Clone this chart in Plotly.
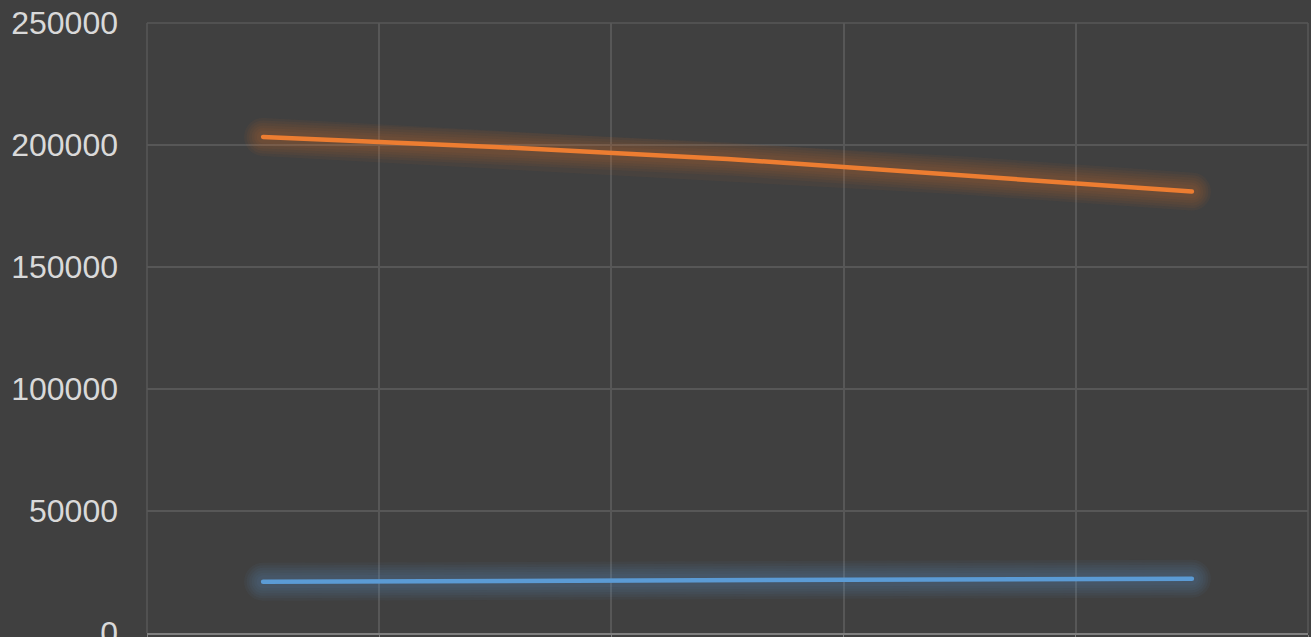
import plotly.graph_objects as go

# Five periods, two series
periods = [0, 1, 2, 3, 4]
series_a = [21000, 21300, 21550, 21900, 22250]        # blue
series_b = [203300, 199200, 194300, 187600, 180900]   # orange

y_ticks = [0, 50000, 100000, 150000, 200000, 250000]
x_bounds = [-0.5, 0.5, 1.5, 2.5, 3.5, 4.5]

BG = "#404040"
GRID = "#575757"
TEXT = "#d9d9d9"

fig = go.Figure()


def glow_line(y, rgb, core_width=4.5):
    # soft halo: stacked translucent strokes, widest first
    for w in [38, 33, 28, 23, 18, 13]:
        fig.add_trace(go.Scatter(
            x=periods, y=y, mode="lines",
            line=dict(color=f"rgba({rgb},0.05)", width=w),
            hoverinfo="skip", showlegend=False,
        ))
    fig.add_trace(go.Scatter(
        x=periods, y=y, mode="lines",
        line=dict(color=f"rgb({rgb})", width=core_width),
        showlegend=False,
    ))


glow_line(series_b, "237,125,49")
glow_line(series_a, "91,155,213")

# plot-area frame lines sitting on the range edges (left, right, top)
for x0, y0, x1, y1 in [(0, 0, 0, 1), (1, 0, 1, 1), (0, 1, 1, 1)]:
    fig.add_shape(type="line", xref="x domain", yref="y domain",
                  x0=x0, y0=y0, x1=x1, y1=y1,
                  line=dict(color=GRID, width=1.5), layer="below")

fig.update_layout(
    width=1311, height=637,
    margin=dict(l=147, r=3, t=23, b=4, autoexpand=False),
    paper_bgcolor=BG, plot_bgcolor=BG,
    font=dict(family="Liberation Sans, Arial, sans-serif", color=TEXT, size=32),
    xaxis=dict(
        range=[-0.5, 4.5], tickvals=x_bounds, showticklabels=False,
        showgrid=True, gridcolor=GRID, gridwidth=1.5,
        zeroline=False, showline=True, linecolor="#808080", linewidth=1.5,
        ticks="outside", ticklen=6, tickcolor="#808080", automargin=False,
    ),
    yaxis=dict(
        range=[0, 250000], tickvals=y_ticks,
        ticktext=[str(v) for v in y_ticks],
        showgrid=True, gridcolor=GRID, gridwidth=1.5,
        zeroline=False, showline=False, automargin=False,
        ticks="", ticklabelstandoff=28, ticklabeloverflow="allow",
    ),
)

# rounded ends and joints on the line strokes
round_caps = """
document.querySelectorAll('.scatterlayer .js-line').forEach(function (p) {
  p.style.strokeLinecap = 'round';
  p.style.strokeLinejoin = 'round';
});
"""

fig.write_html("out.html", post_script=round_caps)
